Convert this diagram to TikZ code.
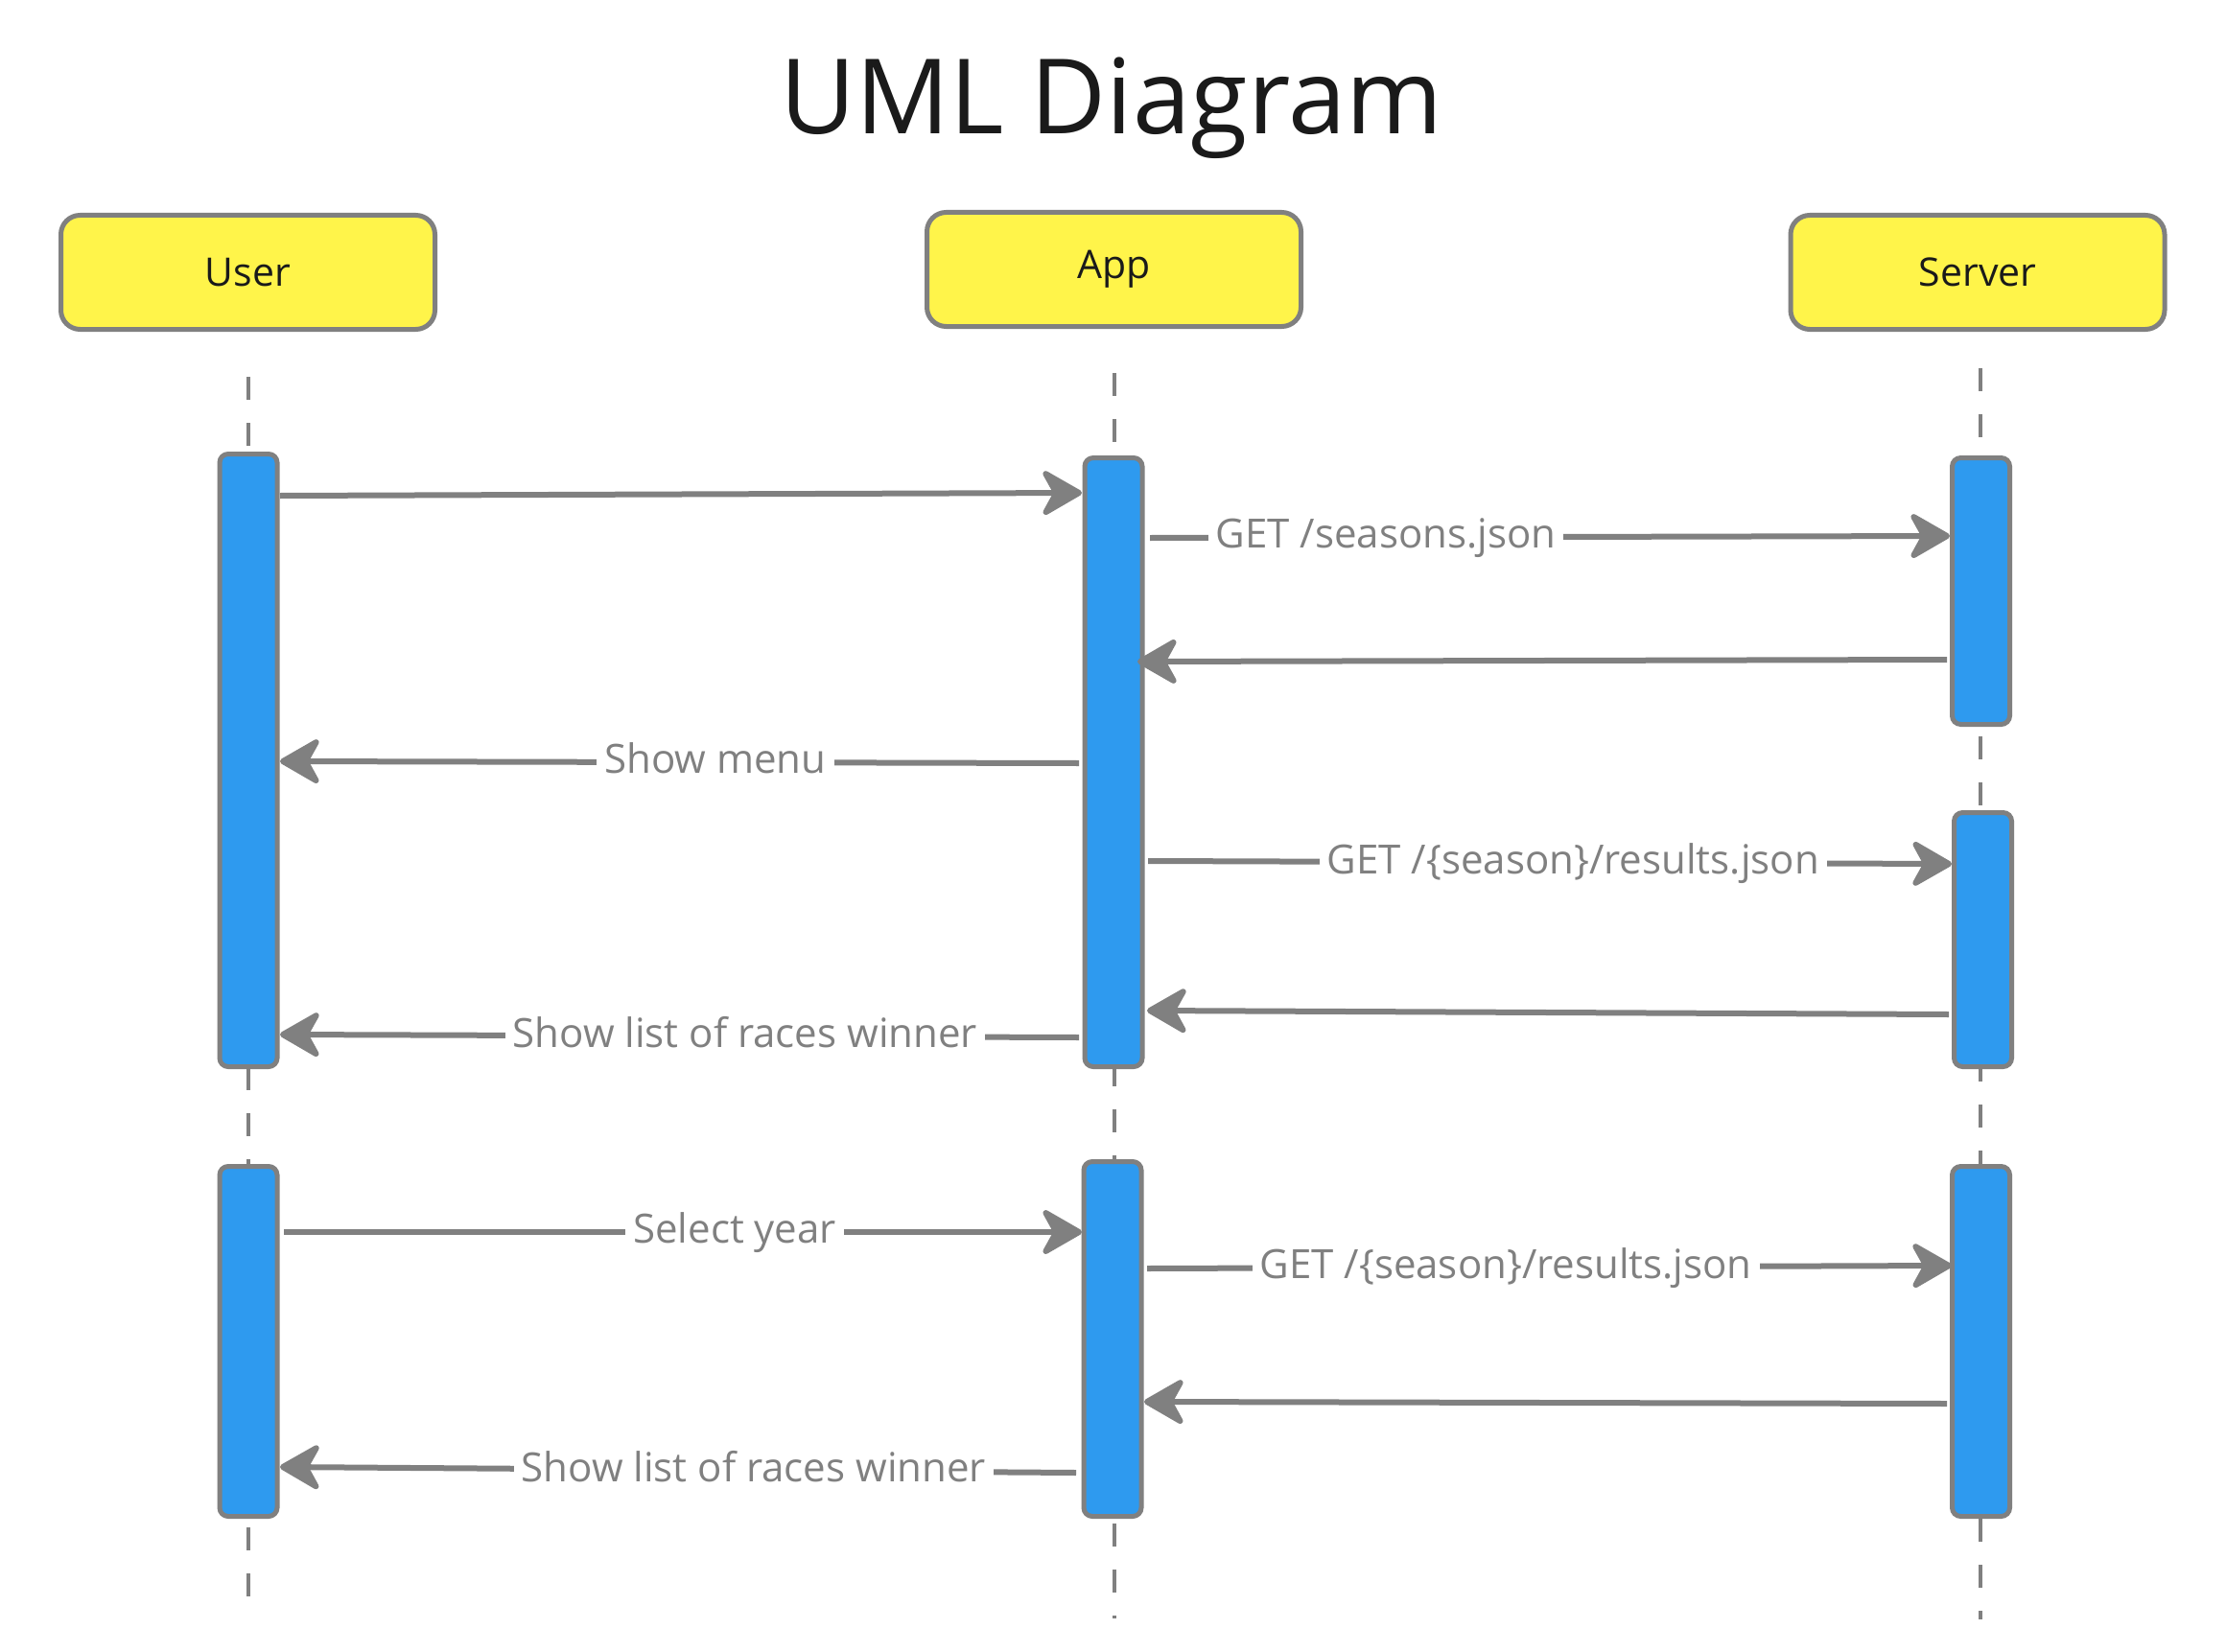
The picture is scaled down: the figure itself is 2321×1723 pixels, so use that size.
\documentclass[tikz,border=0pt]{standalone}
\usepackage{fontspec}
\setmainfont{Open Sans}
\usetikzlibrary{arrows.meta}
\definecolor{linegray}{HTML}{808080}
\definecolor{barblue}{HTML}{2E9AEF}
\definecolor{boxyellow}{HTML}{FFF44A}
\definecolor{textdark}{HTML}{1A1A1A}
\begin{document}
\begin{tikzpicture}[x=1pt,y=-1pt,
  actor/.style={draw=linegray, line width=5pt, fill=boxyellow, rounded corners=20pt,
    minimum width=390pt, minimum height=119pt, text=textdark, inner sep=0pt,
    font=\fontsize{41}{49}\selectfont},
  actbar/.style={draw=linegray, line width=5pt, fill=barblue, rounded corners=9pt,
    minimum width=60pt, inner sep=0pt},
  life/.style={draw=linegray, line width=4.5pt, dash pattern=on 24pt off 24pt},
  msg/.style={draw=linegray, line width=6pt,
    -{Stealth[length=48pt,width=55pt,inset=15pt,round]}},
  lbl/.style={fill=white, text=linegray, font=\fontsize{42}{50}\selectfont,
    inner xsep=8pt, inner ysep=2pt, text height=32pt, text depth=9pt}
]
\useasboundingbox[fill=white] (0,0) rectangle (2321,1723);

% title
\node[font=\fontsize{108.5}{120}\selectfont, text=textdark, anchor=base, inner sep=0pt]
  (title) at (1159,140) {UML Diagram};

% actors
\node[actor] (user) at (258.5,284) {User};
\node[actor] (app) at (1161.5,281) {App};
\node[actor] (server) at (2062,284) {Server};

% lifelines
\coordinate (userT) at (259,393);  \coordinate (userB) at (259,1666);
\coordinate (appT) at (1162,389);  \coordinate (appB) at (1162,1688);
\coordinate (servT) at (2065,384); \coordinate (servB) at (2065,1689);
\draw[life] (userT) -- (userB);
\draw[life] (appT) -- (appB);
\draw[life] (servT) -- (servB);

% activation bars
\node[actbar, minimum height=639pt] (ubar1) at (259,793) {};
\node[actbar, minimum height=365pt] (ubar2) at (259,1399) {};
\node[actbar, minimum height=635pt] (abar1) at (1161,795) {};
\node[actbar, minimum height=370pt] (abar2) at (1160,1396.5) {};
\node[actbar, minimum height=278pt] (sbar1) at (2065.5,616.5) {};
\node[actbar, minimum height=265pt] (sbar2) at (2067.5,980) {};
\node[actbar, minimum height=365pt] (sbar3) at (2065.5,1399) {};

% message end points
\coordinate (m1s) at (292,517);   \coordinate (m1e) at (1128,514);
\coordinate (m2s) at (1199,561);  \coordinate (m2e) at (2033,559);
\coordinate (m3s) at (2030,688);  \coordinate (m3e) at (1186,690);
\coordinate (m4s) at (1125,796);  \coordinate (m4e) at (292,794);
\coordinate (m5s) at (1197,898);  \coordinate (m5e) at (2035,901);
\coordinate (m6s) at (2032,1058); \coordinate (m6e) at (1196,1054);
\coordinate (m7s) at (1125,1082); \coordinate (m7e) at (292,1079);
\coordinate (m8s) at (296,1285);  \coordinate (m8e) at (1128,1285);
\coordinate (m9s) at (1196,1323); \coordinate (m9e) at (2035,1320);
\coordinate (m10s) at (2030,1464); \coordinate (m10e) at (1193,1462);
\coordinate (m11s) at (1122,1536); \coordinate (m11e) at (292,1530);

% messages
\draw[msg] (m1s) -- (m1e);
\draw[msg] (m2s) -- node[lbl, pos=0.295] (l2) {GET /seasons.json} (m2e);
\draw[msg] (m3s) -- (m3e);
\draw[msg] (m4s) -- node[lbl, pos=0.455] (l4) {Show menu} (m4e);
\draw[msg] (m5s) -- node[lbl, pos=0.529] (l5) {GET /\{season\}/results.json} (m5e);
\draw[msg] (m6s) -- (m6e);
\draw[msg] (m7s) -- node[lbl, pos=0.418] (l7) {Show list of races winner} (m7e);
\draw[msg] (m8s) -- node[lbl, pos=0.565] (l8) {Select year} (m8e);
\draw[msg] (m9s) -- node[lbl, pos=0.446] (l9) {GET /\{season\}/results.json} (m9e);
\draw[msg] (m10s) -- (m10e);
\draw[msg] (m11s) -- node[lbl, pos=0.405] (l11) {Show list of races winner} (m11e);
\end{tikzpicture}
\end{document}
